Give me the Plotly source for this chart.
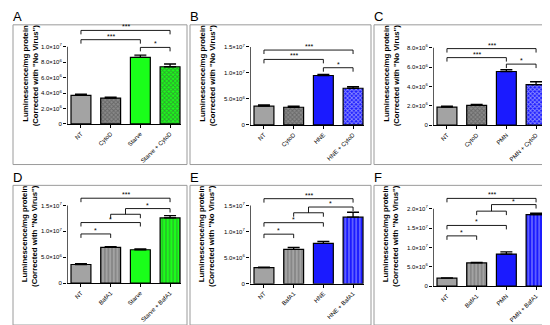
import plotly.graph_objects as go

W, H = 550, 325

# ---------------- data ----------------
cats_A = ["NT", "CytoD", "Starve", "Starve + CytoD"]
cats_B = ["NT", "CytoD", "HNE", "HNE + CytoD"]
cats_C = ["NT", "CytoD", "PMN", "PMN + CytoD"]
cats_D = ["NT", "BafA1", "Starve", "Starve + BafA1"]
cats_E = ["NT", "BafA1", "HNE", "HNE + BafA1"]
cats_F = ["NT", "BafA1", "PMN", "PMN + BafA1"]

vals_A = [3.7e6, 3.35e6, 8.6e6, 7.4e6]
err_A = [0.15e6, 0.1e6, 0.3e6, 0.35e6]
vals_B = [3.6e6, 3.4e6, 9.5e6, 7.05e6]
err_B = [0.25e6, 0.2e6, 0.2e6, 0.3e6]
vals_C = [1.87e6, 2.04e6, 5.54e6, 4.18e6]
err_C = [0.1e6, 0.1e6, 0.2e6, 0.3e6]
vals_D = [3.6e6, 6.9e6, 6.45e6, 12.6e6]
err_D = [0.15e6, 0.15e6, 0.15e6, 0.45e6]
vals_E = [3.1e6, 6.6e6, 7.75e6, 12.75e6]
err_E = [0.1e6, 0.35e6, 0.35e6, 0.95e6]
vals_F = [2.05e6, 6.0e6, 8.3e6, 18.5e6]
err_F = [0.1e6, 0.15e6, 0.55e6, 0.35e6]

ticks_A = [0, 2e6, 4e6, 6e6, 8e6, 1e7]
ticklab_A = ["0", "2.0×10<sup>6</sup>", "4.0×10<sup>6</sup>", "6.0×10<sup>6</sup>", "8.0×10<sup>6</sup>", "1.0×10<sup>7</sup>"]
ticks_B = [0, 5e6, 1e7, 1.5e7]
ticklab_B = ["0", "5.0×10<sup>6</sup>", "1.0×10<sup>7</sup>", "1.5×10<sup>7</sup>"]
ticks_C = [0, 2e6, 4e6, 6e6, 8e6]
ticklab_C = ["0", "2.0×10<sup>6</sup>", "4.0×10<sup>6</sup>", "6.0×10<sup>6</sup>", "8.0×10<sup>6</sup>"]
ticks_D = ticks_B
ticklab_D = ticklab_B
ticks_E = ticks_B
ticklab_E = ticklab_B
ticks_F = [0, 5e6, 1e7, 1.5e7, 2e7]
ticklab_F = ["0", "5.0×10<sup>6</sup>", "1.0×10<sup>7</sup>", "1.5×10<sup>7</sup>", "2.0×10<sup>7</sup>"]

# significance brackets: (left bar, right bar, height, label)
sig_A = [(0, 2, 1.09e7, "***"), (0, 3, 1.21e7, "***"), (2, 3, 0.99e7, "*")]
sig_B = [(0, 2, 1.26e7, "***"), (0, 3, 1.44e7, "***"), (2, 3, 1.10e7, "*")]
sig_C = [(0, 2, 6.97e6, "***"), (0, 3, 7.9e6, "***"), (2, 3, 6.3e6, "*")]
sig_D = [(0, 1, 9.5e6, "*"), (0, 2, 11.7e6, "*"), (0, 3, 16.4e6, "***")]
sig_E = [(0, 1, 9.5e6, "*"), (0, 2, 11.7e6, "*"), (0, 3, 16.3e6, "***")]
sig_F = [(0, 1, 13.0e6, "*"), (0, 2, 15.7e6, "*"), (0, 3, 22.7e6, "***")]
# grouped bracket: (bar a, bar b, bar c, low height, high height, label)
grp_D = (1, 2, 3, 13.3e6, 14.4e6, "*")
grp_E = (1, 2, 3, 13.6e6, 14.7e6, "*")
grp_F = (1, 2, 3, 19.4e6, 21.1e6, "*")

# ---------------- styling ----------------
GRAY = "#a3a3a3"
GREEN = "#1aff1a"
BLUE = "#1a1aff"
FONT = "Liberation Sans, Arial, sans-serif"

panels = [
    dict(lab="A", cats=cats_A, v=vals_A, e=err_A, t=ticks_A, tl=ticklab_A, sig=sig_A, grp=None,
         col=GREEN, treat="check", ax=59, y0=117, ytop=39, box=(5, 17, 179, 158)),
    dict(lab="B", cats=cats_B, v=vals_B, e=err_B, t=ticks_B, tl=ticklab_B, sig=sig_B, grp=None,
         col=BLUE, treat="check", ax=242, y0=118, ytop=39.3, box=(182, 17, 363, 158)),
    dict(lab="C", cats=cats_C, v=vals_C, e=err_C, t=ticks_C, tl=ticklab_C, sig=sig_C, grp=None,
         col=BLUE, treat="check", ax=425, y0=118.3, ytop=40, box=(366, 17, 545, 158)),
    dict(lab="D", cats=cats_D, v=vals_D, e=err_D, t=ticks_D, tl=ticklab_D, sig=sig_D, grp=grp_D,
         col=GREEN, treat="stripe", ax=59, y0=277.7, ytop=199.3, box=(5, 179, 179, 320)),
    dict(lab="E", cats=cats_E, v=vals_E, e=err_E, t=ticks_E, tl=ticklab_E, sig=sig_E, grp=grp_E,
         col=BLUE, treat="stripe", ax=242, y0=278.3, ytop=199.3, box=(182, 179, 363, 320)),
    dict(lab="F", cats=cats_F, v=vals_F, e=err_F, t=ticks_F, tl=ticklab_F, sig=sig_F, grp=grp_F,
         col=BLUE, treat="stripe", ax=425, y0=280.7, ytop=202.7, box=(366, 179, 545, 320)),
]

SP = 29.7
XR = (-0.47, 3.37)

fig = go.Figure()
shapes = []
annots = []


def px2fx(p):
    return p / W


def px2fy(p):
    return 1 - p / H


for k, p in enumerate(panels):
    n = k + 1
    xa = "x" if n == 1 else f"x{n}"
    ya = "y" if n == 1 else f"y{n}"
    xkey = "xaxis" if n == 1 else f"xaxis{n}"
    ykey = "yaxis" if n == 1 else f"yaxis{n}"

    bx0, by0, bx1, by1 = p["box"]
    dtop = by0 + 1
    ppu = (p["y0"] - p["ytop"]) / p["t"][-1]
    ymax = (p["y0"] - dtop) / ppu
    xr_px = p["ax"] + (XR[1] - XR[0]) * SP

    shp = "x" if p["treat"] == "check" else "|"
    fg = ["black"] * 4
    bg = [GRAY, "#8a8a8a" if p["treat"] == "check" else GRAY, p["col"], p["col"]]
    shapes_pat = ["", shp, "", shp]

    fig.add_trace(go.Bar(
        x=list(range(4)), y=p["v"], width=0.67,
        marker=dict(color=bg, line=dict(color="black", width=1.2),
                    pattern=dict(shape=shapes_pat, fgcolor=fg, bgcolor=bg,
                                 size=3 if p["treat"] == "check" else 3.6,
                                 solidity=0.5 if p["treat"] == "check" else 0.3,
                                 fillmode="overlay")),
        error_y=dict(type="data", array=p["e"], arrayminus=[0] * 4, symmetric=False,
                     color="black", thickness=1.3, width=6),
        xaxis=xa, yaxis=ya, showlegend=False, hoverinfo="skip",
    ))

    fig.update_layout(**{
        xkey: dict(domain=[px2fx(p["ax"]), px2fx(xr_px)], range=list(XR), anchor=ya,
                   tickvals=list(range(4)), ticktext=p["cats"], tickangle=-45,
                   ticks="outside", ticklen=3, tickwidth=1, tickcolor="black",
                   showline=True, linecolor="black", linewidth=1.3, showgrid=False,
                   zeroline=False, fixedrange=True,
                   tickfont=dict(family=FONT, size=6, color="black")),
        ykey: dict(domain=[px2fy(p["y0"]), px2fy(dtop)], range=[0, ymax], anchor=xa,
                   tickvals=p["t"], ticktext=p["tl"], ticks="outside", ticklen=3,
                   tickwidth=1, tickcolor="black", showline=False, showgrid=False,
                   zeroline=False, fixedrange=True,
                   tickfont=dict(family=FONT, size=6, color="black")),
    })

    shapes.append(dict(type="line", xref=xa, yref=ya, x0=XR[0], x1=XR[0], y0=0, y1=p["t"][-1],
                       line=dict(color="black", width=1.3)))

    leg = 4 / ppu
    for (i, j, h, lab) in p["sig"]:
        shapes.append(dict(type="path", xref=xa, yref=ya,
                           path=f"M {i},{h - leg} L {i},{h} L {j},{h} L {j},{h - leg}",
                           line=dict(color="black", width=0.9)))
        annots.append(dict(xref=xa, yref=ya, x=(i + j) / 2, y=h, text=lab, showarrow=False,
                           yanchor="bottom", yshift=-2,
                           font=dict(family=FONT, size=7, color="black")))
    if p["grp"]:
        a, b, c, lo, hi, lab = p["grp"]
        mid = (a + b) / 2
        shapes.append(dict(type="path", xref=xa, yref=ya,
                           path=f"M {a},{lo - leg} L {a},{lo} L {b},{lo} L {b},{lo - leg}",
                           line=dict(color="black", width=0.9)))
        shapes.append(dict(type="path", xref=xa, yref=ya,
                           path=f"M {mid},{lo} L {mid},{hi} L {c},{hi} L {c},{hi - leg}",
                           line=dict(color="black", width=0.9)))
        annots.append(dict(xref=xa, yref=ya, x=(mid + c) / 2, y=hi, text=lab, showarrow=False,
                           yanchor="bottom", yshift=-2,
                           font=dict(family=FONT, size=7, color="black")))

    shapes.append(dict(type="rect", xref="paper", yref="paper",
                       x0=px2fx(bx0), x1=px2fx(bx1), y0=px2fy(by1), y1=px2fy(by0),
                       line=dict(color="#9a9a9a", width=1)))
    annots.append(dict(xref="paper", yref="paper", x=px2fx(bx0 - 2), y=px2fy(by0 - 8),
                       text=p["lab"], showarrow=False, xanchor="left", yanchor="middle",
                       font=dict(family=FONT, size=13, color="black")))
    annots.append(dict(xref="paper", yref="paper", x=px2fx(bx0 + 17), y=px2fy(by0 + 51),
                       text="<b>Luminescence/mg protein<br>(Corrected with \"No Virus\")</b>",
                       showarrow=False, textangle=-90, align="right",
                       xanchor="center", yanchor="middle",
                       font=dict(family=FONT, size=7.8, color="black")))

fig.update_layout(width=W, height=H, margin=dict(l=0, r=0, t=0, b=0),
                  paper_bgcolor="white", plot_bgcolor="white",
                  shapes=shapes, annotations=annots, bargap=0.3)

fig.write_html("out.html")
